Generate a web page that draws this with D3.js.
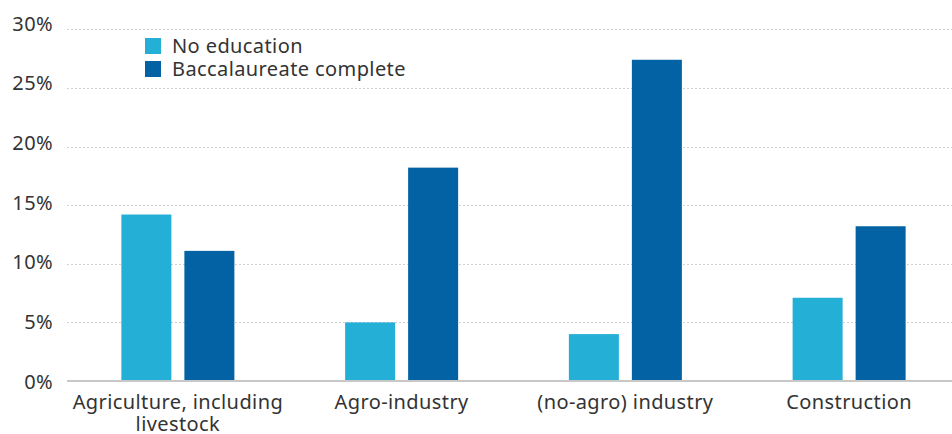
<!DOCTYPE html>
<html><head><meta charset="utf-8">
<script src="https://cdn.jsdelivr.net/npm/d3@7"></script>
<style>body{margin:0;background:#fff;} svg{display:block;} text{font-family:"Noto Sans",sans-serif;fill:#333;letter-spacing:0.4px;}</style>
</head><body><svg id="c" width="952" height="434"></svg>
<script>
const categories = [["Agriculture, including","livestock"],["Agro-industry"],["(no-agro) industry"],["Construction"]];
const seriesNames = ["No education","Baccalaureate complete"];
const noEducation = [14.2, 5.0, 4.0, 7.1];
const baccalaureate = [11.1, 18.2, 27.4, 13.2];
const yTicks = [0,5,10,15,20,25,30];
const colors = ["#23afd6","#0262a3"];

const svg = d3.select("#c");
const y = d3.scaleLinear().domain([0,30]).range([381,29.3]);
const yLab = d3.scaleLinear().domain([0,30]).range([382,23.7]);
const x = d3.scaleBand().domain(d3.range(categories.length)).range([66,961]);
const barW = 50, barGap = 13;

// grid
svg.append("g").selectAll("line").data(yTicks.filter(d=>d>0)).join("line")
  .attr("x1",67).attr("x2",952).attr("y1",d=>Math.round(y(d))+0.5).attr("y2",d=>Math.round(y(d))+0.5)
  .attr("stroke","#cfcfcf").attr("stroke-width",1).attr("stroke-dasharray","2,2");

const yAxis = d3.axisLeft(yLab).tickValues(yTicks).tickFormat(d=>d+"%").tickSize(0).tickPadding(0);
const ga = svg.append("g").attr("transform","translate(53,0)").call(yAxis);
ga.select(".domain").remove();
ga.selectAll("text").style("font-size","20px").attr("fill","#333").attr("font-family","'Noto Sans', sans-serif");

const series = [noEducation, baccalaureate];
series.forEach((vals,si)=>{
  svg.append("g").selectAll("rect").data(vals).join("rect")
    .attr("x",(d,i)=>x(i)+x.bandwidth()/2-(barW+barGap/2)+si*(barW+barGap))
    .attr("width",barW)
    .attr("y",d=>y(d)).attr("height",d=>y(0)-y(d))
    .attr("fill",colors[si]);
});

// baseline
svg.append("line").attr("x1",67).attr("x2",952).attr("y1",y(0)).attr("y2",y(0))
  .attr("stroke","#c8c8c8").attr("stroke-width",2);

// category labels
const xl = svg.append("g");
categories.forEach((lines,i)=>{
  const cx = x(i)+x.bandwidth()/2;
  const t = xl.append("text").attr("text-anchor","middle").attr("x",cx)
    .attr("y",409).style("font-size","20px");
  lines.forEach((l,j)=>t.append("tspan").attr("x",cx).attr("dy",j?22:0).text(l));
});

// legend
const lg = svg.append("g");
seriesNames.forEach((n,i)=>{
  lg.append("rect").attr("x",145).attr("y",38+i*23).attr("width",16).attr("height",16).attr("fill",colors[i]);
  lg.append("text").attr("x",172).attr("y",52.5+i*23).style("font-size","20px").text(n);
});
</script></body></html>
